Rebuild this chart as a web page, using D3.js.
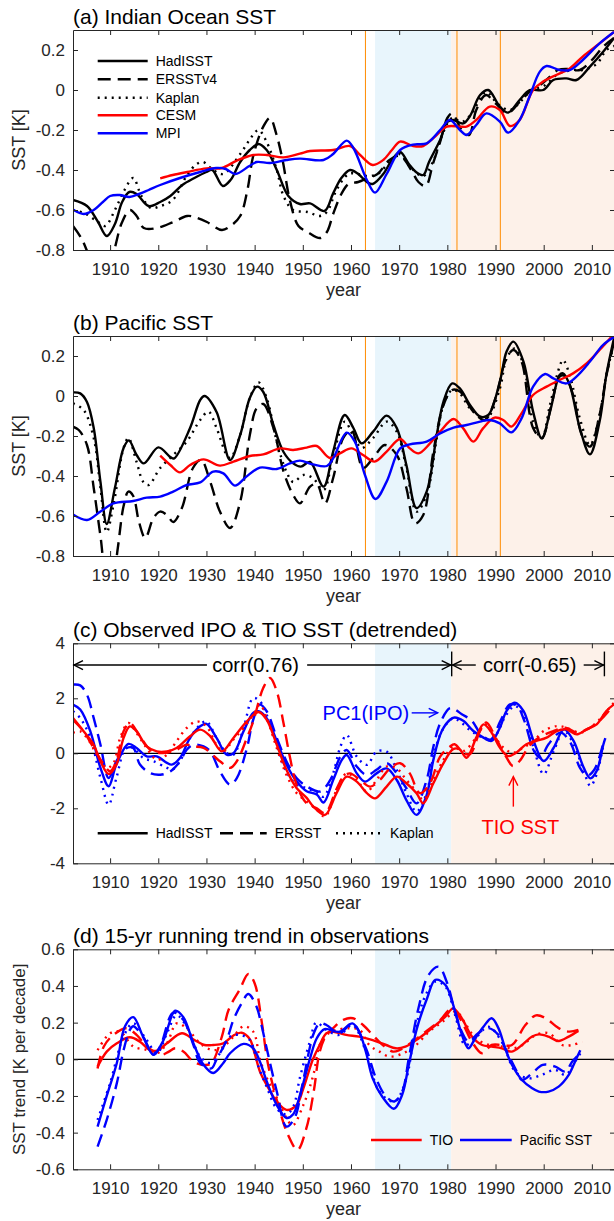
<!DOCTYPE html>
<html>
<head>
<meta charset="utf-8">
<script src="https://cdn.jsdelivr.net/npm/d3@7"></script>
<style>
  body { margin: 0; background: #fff; }
  svg text { font-family: "Liberation Sans", Arial, Helvetica, sans-serif; }
</style>
</head>
<body>
<div id="chart"></div>
<script>
// ---- axes / annotation values ----
var xTicks = [1910, 1920, 1930, 1940, 1950, 1960, 1970, 1980, 1990, 2000, 2010];
var yTicksAB = [-0.8, -0.6, -0.4, -0.2, 0, 0.2];
var yTicksC = [-4, -2, 0, 2, 4];
var yTicksD = [-0.6, -0.4, -0.2, 0, 0.2, 0.4, 0.6];
var blueSpan = [1965, 1980.8];
var pinkSpan = [1980.8, 2014.8];
var volcanoYears = [1963, 1982, 1991];

// ---- (a) Indian Ocean SST [year, K] ----
var aHadISST = [[1902.3,-0.55],[1905.2,-0.58],[1907.5,-0.66],[1909.3,-0.73],[1911,-0.67],[1912.5,-0.56],[1914,-0.51],[1915.5,-0.52],[1918,-0.58],[1920.4,-0.56],[1922.5,-0.53],[1925,-0.475],[1927.5,-0.44],[1930,-0.41],[1931.2,-0.40],[1933.4,-0.48],[1935,-0.45],[1937,-0.36],[1939,-0.3],[1940.8,-0.27],[1942.5,-0.3],[1944.6,-0.4],[1947,-0.53],[1949.4,-0.57],[1951.5,-0.567],[1954.5,-0.605],[1956.3,-0.517],[1958,-0.44],[1959.8,-0.40],[1961.5,-0.42],[1963.3,-0.46],[1964.5,-0.47],[1966.7,-0.42],[1968.5,-0.35],[1970.2,-0.31],[1972,-0.37],[1973.5,-0.41],[1975,-0.425],[1976.2,-0.36],[1978.5,-0.25],[1980,-0.16],[1981.2,-0.15],[1983.3,-0.167],[1984.7,-0.13],[1986.8,-0.025],[1988.5,0.0],[1990.9,-0.083],[1992.6,-0.113],[1995,-0.05],[1997.1,0.0],[1999.9,0.0],[2002,0.05],[2004.7,0.058],[2006.8,0.05],[2009.6,0.117],[2012.3,0.19],[2014.6,0.26]];
var aERSST = [[1902.3,-0.68],[1904,-0.74],[1905.5,-0.82],[1908,-0.95],[1910,-0.9],[1911,-0.79],[1912.5,-0.66],[1914.1,-0.6],[1915.5,-0.63],[1917,-0.69],[1919.7,-0.69],[1923.1,-0.66],[1926,-0.63],[1927.5,-0.635],[1930.1,-0.66],[1933.2,-0.70],[1935,-0.68],[1937,-0.63],[1938.5,-0.5],[1939.7,-0.33],[1941.8,-0.183],[1943.2,-0.14],[1944.5,-0.22],[1945.8,-0.35],[1947.3,-0.55],[1949.1,-0.68],[1951,-0.71],[1953.6,-0.74],[1955,-0.71],[1956.3,-0.62],[1958,-0.52],[1959.5,-0.47],[1961.5,-0.46],[1963.5,-0.44],[1965.5,-0.42],[1968,-0.35],[1970.2,-0.33],[1972.5,-0.4],[1974,-0.46],[1975.5,-0.48],[1977,-0.37],[1978.5,-0.26],[1980,-0.14],[1981,-0.117],[1983,-0.2],[1984.5,-0.225],[1986,-0.1],[1988,-0.025],[1990,-0.067],[1992.5,-0.115],[1995,-0.06],[1997,-0.01],[1999,0.02],[2001,0.06],[2003,0.1],[2005,0.105],[2007.5,0.1],[2010,0.15],[2012.5,0.22],[2014.6,0.26]];
var aKaplan = [[1902.3,-0.6],[1905,-0.62],[1907.5,-0.66],[1909,-0.68],[1911,-0.6],[1913,-0.5],[1914.8,-0.44],[1916.5,-0.53],[1918.5,-0.59],[1920.5,-0.58],[1923,-0.55],[1926,-0.425],[1928,-0.37],[1929.3,-0.36],[1931.4,-0.40],[1933.5,-0.42],[1937,-0.32],[1939.5,-0.23],[1940.8,-0.2],[1942.5,-0.26],[1944.6,-0.4],[1946,-0.53],[1948,-0.6],[1951,-0.61],[1953.5,-0.63],[1955,-0.61],[1957,-0.5],[1959.5,-0.42],[1961.5,-0.42],[1963.5,-0.43],[1965.5,-0.42],[1968,-0.36],[1970,-0.32],[1972.5,-0.39],[1975,-0.43],[1977,-0.36],[1979,-0.22],[1981,-0.14],[1983,-0.16],[1985,-0.12],[1988,-0.01],[1990.5,-0.07],[1993,-0.1],[1995.5,-0.05],[1997.5,0.0],[2000,0.02],[2003,0.08],[2006,0.1],[2008,0.1],[2011,0.13],[2013,0.2],[2014.6,0.22]];
var aCESM = [[1920.4,-0.442],[1923,-0.425],[1926,-0.41],[1930,-0.392],[1933.2,-0.39],[1936.3,-0.353],[1939.7,-0.325],[1942.5,-0.325],[1946,-0.337],[1949.4,-0.318],[1951.5,-0.305],[1956.3,-0.3],[1959.8,-0.28],[1961.9,-0.325],[1964.5,-0.375],[1966.7,-0.35],[1968.5,-0.3],[1970.2,-0.258],[1972.9,-0.28],[1975,-0.28],[1977.1,-0.24],[1979.9,-0.183],[1982.6,-0.183],[1984,-0.183],[1986,-0.15],[1988.8,-0.083],[1990.9,-0.1],[1993,-0.18],[1995,-0.15],[1997.8,0.0],[1999.9,0.042],[2002.6,0.075],[2005.4,0.108],[2008.1,0.167],[2011.6,0.233],[2014.6,0.29]];
var aMPI = [[1902.3,-0.597],[1904.5,-0.62],[1906.6,-0.6],[1908.5,-0.56],[1910,-0.53],[1912,-0.525],[1914,-0.535],[1916,-0.52],[1918,-0.5],[1920.4,-0.475],[1924.5,-0.44],[1928.7,-0.41],[1932,-0.39],[1934,-0.395],[1936,-0.42],[1938.9,-0.38],[1940.4,-0.36],[1943.2,-0.365],[1946.6,-0.35],[1949.4,-0.343],[1954.3,-0.35],[1956.3,-0.32],[1959.1,-0.253],[1960.5,-0.29],[1963.3,-0.45],[1965,-0.513],[1967.4,-0.42],[1970.2,-0.30],[1972.9,-0.273],[1975.7,-0.267],[1978.5,-0.2],[1980.5,-0.15],[1982.6,-0.2],[1984,-0.225],[1986,-0.175],[1988.1,-0.117],[1990.9,-0.158],[1992.6,-0.213],[1995,-0.15],[1997.1,-0.03],[1999.2,0.092],[2000.6,0.12],[2003.3,0.1],[2005.4,0.1],[2008.1,0.15],[2011.6,0.233],[2014.6,0.29]];

// ---- (b) Pacific SST [year, K] ----
var bHadISST = [[1902.3,0.018],[1903.8,0.013],[1905.2,-0.03],[1906.6,-0.16],[1908,-0.43],[1909.3,-0.64],[1911,-0.46],[1912.8,-0.26],[1913.9,-0.222],[1915.5,-0.295],[1917,-0.337],[1920,-0.257],[1922.5,-0.305],[1923.3,-0.312],[1926.6,-0.16],[1928.7,-0.02],[1929.6,0.0],[1932.1,-0.08],[1934.9,-0.32],[1937,-0.195],[1939,-0.01],[1940.5,0.047],[1941.8,0.02],[1943.9,-0.145],[1946,-0.28],[1948,-0.337],[1949.6,-0.353],[1951.5,-0.33],[1954.3,-0.453],[1956.3,-0.278],[1958.7,-0.095],[1960.5,-0.16],[1962.2,-0.237],[1964.6,-0.178],[1967.4,-0.098],[1969.5,-0.16],[1971.5,-0.345],[1973.6,-0.56],[1975.7,-0.478],[1977.8,-0.195],[1979.2,-0.028],[1981,0.063],[1982.6,0.038],[1984.7,-0.045],[1986.8,-0.103],[1988.5,-0.095],[1990.9,0.072],[1992.3,0.222],[1993.7,0.272],[1995.8,0.172],[1997.8,-0.078],[1999.6,-0.212],[2001.3,-0.08],[2003.3,0.105],[2004,0.113],[2005.4,0.055],[2007.5,-0.16],[2009.6,-0.292],[2011.6,-0.128],[2013,0.105],[2014.6,0.29]];
var bERSST = [[1902.3,-0.153],[1903.5,-0.17],[1905.2,-0.245],[1906.6,-0.46],[1908,-0.7],[1909.5,-0.95],[1910.7,-0.9],[1911.6,-0.76],[1912.8,-0.55],[1913.8,-0.478],[1914.8,-0.5],[1916,-0.63],[1917.3,-0.71],[1919,-0.61],[1920.4,-0.578],[1921.8,-0.595],[1923.1,-0.63],[1924.9,-0.56],[1927.2,-0.36],[1928.9,-0.32],[1930.8,-0.43],[1932.8,-0.578],[1934.9,-0.66],[1937,-0.53],[1939,-0.195],[1940.4,-0.062],[1941.8,-0.04],[1943.9,-0.16],[1946,-0.378],[1948,-0.495],[1949.4,-0.537],[1951.5,-0.453],[1952.9,-0.44],[1954.6,-0.537],[1956.3,-0.41],[1958.4,-0.21],[1960.1,-0.17],[1962.5,-0.36],[1964.6,-0.31],[1967,-0.245],[1969.5,-0.295],[1971.5,-0.46],[1973.3,-0.637],[1975,-0.595],[1977.1,-0.278],[1979.2,-0.045],[1981,0.03],[1982.6,0.022],[1985.4,-0.078],[1987.8,-0.12],[1990.2,0.005],[1992,0.172],[1993.7,0.23],[1995.4,0.172],[1997.8,-0.16],[1999.6,-0.21],[2001.6,-0.045],[2003.3,0.097],[2004.4,0.1],[2006.1,0.005],[2007.9,-0.195],[2009.6,-0.253],[2011.6,-0.095],[2013,0.1],[2014.6,0.27]];
var bKaplan = [[1902.3,-0.037],[1904.5,-0.07],[1906.6,-0.21],[1908,-0.46],[1909.3,-0.68],[1910.7,-0.545],[1912.8,-0.26],[1913.8,-0.21],[1915.5,-0.33],[1916.9,-0.43],[1918,-0.445],[1920.4,-0.36],[1923.1,-0.295],[1925.9,-0.228],[1928.7,-0.12],[1930.4,-0.078],[1932.1,-0.16],[1934.2,-0.295],[1935,-0.31],[1937,-0.195],[1939,-0.01],[1940.8,0.068],[1942.5,-0.01],[1944.6,-0.228],[1946.6,-0.378],[1948,-0.43],[1950.1,-0.395],[1952.1,-0.41],[1954.3,-0.47],[1956.3,-0.3],[1958.7,-0.128],[1960.5,-0.2],[1962.2,-0.26],[1964.6,-0.21],[1967.4,-0.128],[1969.5,-0.178],[1971.5,-0.36],[1973.6,-0.578],[1975.7,-0.495],[1977.8,-0.212],[1979.2,-0.045],[1981,0.03],[1982.6,0.013],[1984.7,-0.062],[1988.1,-0.112],[1990.9,0.038],[1992.3,0.188],[1994,0.238],[1995.8,0.155],[1997.8,-0.128],[1999.6,-0.212],[2001.3,-0.045],[2003.3,0.147],[2004,0.18],[2005.4,0.105],[2007.5,-0.112],[2009.6,-0.245],[2011.6,-0.095],[2013,0.105],[2014.6,0.26]];
var bCESM = [[1920.4,-0.298],[1922.5,-0.345],[1924.5,-0.382],[1926.6,-0.345],[1929.4,-0.317],[1932.8,-0.348],[1935.6,-0.328],[1939,-0.3],[1941.8,-0.292],[1945.3,-0.262],[1948,-0.27],[1950.8,-0.258],[1952.9,-0.25],[1955.6,-0.31],[1957.7,-0.287],[1960.1,-0.262],[1962.5,-0.295],[1964.9,-0.328],[1967.4,-0.278],[1970.2,-0.215],[1972.2,-0.262],[1974,-0.287],[1976.4,-0.237],[1978.5,-0.178],[1981.3,-0.115],[1983.3,-0.162],[1985.4,-0.228],[1987.4,-0.162],[1989.8,-0.108],[1991.6,-0.12],[1993.3,-0.153],[1995.4,-0.087],[1997.8,0.005],[2000.6,0.047],[2003.3,0.08],[2006.1,0.113],[2008.9,0.163],[2011.6,0.23],[2014.6,0.31]];
var bMPI = [[1902.3,-0.592],[1905.2,-0.62],[1908,-0.578],[1910.7,-0.537],[1914.8,-0.525],[1917.6,-0.508],[1920.4,-0.503],[1923.1,-0.478],[1925.9,-0.445],[1928.7,-0.432],[1931.4,-0.378],[1933.5,-0.387],[1935.9,-0.448],[1938.3,-0.403],[1941.1,-0.358],[1944.6,-0.365],[1947.3,-0.337],[1949.4,-0.323],[1952.1,-0.342],[1955,-0.35],[1956.3,-0.312],[1959.1,-0.183],[1960.8,-0.228],[1962.9,-0.395],[1965.1,-0.515],[1967.4,-0.428],[1970.2,-0.262],[1972.2,-0.242],[1975.7,-0.228],[1978.5,-0.187],[1981.3,-0.158],[1984,-0.145],[1986.8,-0.128],[1988.8,-0.12],[1990.9,-0.137],[1993.3,-0.182],[1995.4,-0.112],[1997.8,0.047],[2000.3,0.11],[2002,0.088],[2004.7,0.063],[2006.8,0.097],[2009.6,0.172],[2012.3,0.255],[2014.6,0.295]];

// ---- (c) detrended IPO (blue) and TIO SST (red), standardized ----
var cIpoHadISST = [[1902.3,1.77],[1903.8,1.59],[1905.9,0.8],[1908,-0.53],[1909.7,-1.2],[1911.3,-0.41],[1913.8,0.34],[1915.5,0.19],[1917.6,-0.11],[1919.7,-0.11],[1921.8,-0.35],[1922.8,-0.41],[1924.5,-0.17],[1926.6,0.56],[1928.7,0.98],[1930,1.07],[1932.1,0.56],[1934.2,-0.05],[1935.6,0.0],[1937.7,0.8],[1939.7,1.47],[1940.8,1.53],[1942.5,1.28],[1944.6,0.44],[1946.6,-0.41],[1948.7,-1.02],[1950.8,-1.38],[1952.9,-1.5],[1954.3,-1.79],[1956.3,-0.97],[1958.1,-0.24],[1959.1,-0.06],[1961.2,-0.73],[1962.9,-1.03],[1965.3,-0.73],[1967.4,-0.55],[1969.5,-0.97],[1971.5,-1.7],[1973.6,-2.24],[1975.7,-1.52],[1977.1,-0.24],[1978.8,0.79],[1980.5,1.21],[1981.5,1.3],[1983.3,1.18],[1985.4,0.81],[1987.5,0.57],[1989.2,0.45],[1990.9,0.93],[1992.3,1.54],[1994,1.84],[1995.8,1.54],[1997.9,0.45],[2000,-0.28],[2002.1,0.21],[2004.2,0.87],[2006.2,0.45],[2008.3,-0.52],[2009.7,-0.91],[2011,-0.64],[2012.4,0.33],[2012.8,0.55]];
var cIpoERSST = [[1902.3,2.5],[1903.8,2.47],[1905.2,2.13],[1906.6,1.28],[1908,0.31],[1909.7,-0.9],[1911.3,-0.29],[1913.4,0.19],[1914.8,0.19],[1916.2,-0.41],[1918.3,-0.72],[1920.4,-0.78],[1922.5,-0.66],[1924.5,-0.29],[1925.9,0.13],[1927.3,0.31],[1929.4,0.25],[1930.8,0.07],[1932.8,-0.66],[1934.9,-1.14],[1936.3,-0.9],[1938.4,0.19],[1939.7,1.22],[1941.1,1.77],[1942.5,1.53],[1944.6,0.56],[1946.6,-0.29],[1948.7,-0.9],[1950.8,-1.2],[1953.6,-1.39],[1955.7,-0.97],[1957.8,-0.12],[1959.1,0.12],[1961.2,-0.48],[1963.3,-0.79],[1965.3,-0.6],[1967.4,-0.36],[1969.5,-0.73],[1971.5,-1.27],[1973.6,-1.82],[1975.7,-0.97],[1977.1,0.24],[1978.5,1.09],[1980.5,1.64],[1981.5,1.6],[1983,1.42],[1985,1.2],[1987,0.69],[1989,0.5],[1991,1.17],[1993,1.78],[1994.5,1.72],[1996,1.17],[1998,0.08],[1999.3,-0.16],[2001,0.33],[2003.5,0.75],[2005.5,0.4],[2007.5,-0.52],[2009,-0.82],[2010.5,-0.6],[2012.5,0.45]];
var cIpoKaplan = [[1902.3,1.53],[1903.8,1.28],[1905.9,0.56],[1908,-0.9],[1909.7,-1.87],[1911.3,-0.9],[1913.4,0.25],[1914.8,0.19],[1916.9,-0.17],[1919,-0.29],[1921.8,-0.53],[1922.8,-0.6],[1924.5,-0.29],[1926.6,0.56],[1928.7,1.04],[1930,1.16],[1932.1,0.56],[1934.2,0.01],[1935.6,-0.05],[1937.7,0.92],[1939.7,2.01],[1941.1,1.89],[1942.5,1.4],[1944.6,0.31],[1946.6,-0.66],[1948.7,-1.14],[1950.8,-1.27],[1952.9,-1.44],[1954.3,-1.58],[1956.3,-0.73],[1957.8,0.24],[1959.1,0.67],[1961.2,-0.12],[1963.3,-0.42],[1965.3,0.06],[1967.4,0.06],[1969.5,-0.61],[1971.5,-1.45],[1973.6,-2.12],[1975.7,-1.45],[1977.1,-0.12],[1979,0.85],[1981.2,1.27],[1983,1.1],[1985.4,0.75],[1989.2,0.51],[1992.3,1.42],[1994,1.72],[1995.8,1.42],[1997.9,0.2],[2000,-0.76],[2002.1,0.09],[2004.2,0.81],[2006.2,0.33],[2008.3,-0.64],[2009.7,-1.19],[2011,-0.76],[2012.4,0.33]];
var cTioHadISST = [[1902.3,1.28],[1904.5,0.8],[1906.6,0.31],[1908,-0.29],[1909.7,-0.75],[1911.3,-0.41],[1912.8,0.56],[1914.1,0.98],[1915.5,0.8],[1917.6,0.25],[1919.7,0.07],[1921.8,0.07],[1923.8,0.19],[1926.6,0.62],[1928.7,0.86],[1930.8,0.62],[1933.2,0.07],[1935.6,0.56],[1938.4,1.16],[1940.8,1.5],[1942.5,1.22],[1944.6,0.31],[1946.6,-0.6],[1948.7,-1.26],[1950.8,-1.62],[1952.2,-1.94],[1954.6,-2.24],[1957,-1.45],[1959.1,-0.85],[1961.2,-1.03],[1963.3,-1.45],[1965,-1.64],[1967.4,-1.21],[1969.5,-0.85],[1971.5,-1.09],[1973.6,-1.45],[1975,-1.82],[1977.1,-1.09],[1979.2,-0.36],[1981.2,0.15],[1982.5,0.15],[1984,-0.16],[1986,0.57],[1987.5,1.05],[1989.2,0.75],[1990.9,0.21],[1992.6,-0.1],[1994.3,0.02],[1996.4,0.33],[1998.5,0.45],[2000.6,0.57],[2002.7,0.81],[2004.7,0.87],[2006.8,0.69],[2008.9,0.87],[2011,1.05],[2013,1.54],[2014.6,1.78]];
var cTioERSST = [[1902.3,1.22],[1904.5,0.8],[1906.6,0.19],[1908.7,-0.41],[1910,-0.65],[1911.3,-0.29],[1912.8,0.8],[1914.1,1.1],[1916.2,0.62],[1918.3,0.13],[1920.4,0.01],[1923.1,0.07],[1925.9,0.31],[1927.3,0.25],[1929.4,0.2],[1932.8,-0.29],[1934.9,-0.53],[1936.3,-0.29],[1938.4,0.56],[1939.7,1.16],[1941.8,2.38],[1943.2,2.74],[1944.6,2.25],[1946,1.09],[1947.3,-0.12],[1948.7,-1.14],[1950.8,-1.82],[1952.9,-2.0],[1954.6,-2.18],[1957,-1.3],[1958.4,-0.85],[1959.8,-0.73],[1961.9,-0.97],[1964,-1.21],[1966,-0.97],[1968.1,-0.55],[1970.2,-0.36],[1972.2,-0.73],[1974.3,-1.45],[1976.4,-1.09],[1978.5,-0.12],[1980.5,0.24],[1981.5,0.33],[1983.3,0.02],[1984.7,-0.03],[1986.8,0.81],[1988.1,1.12],[1990,0.57],[1992.3,-0.16],[1993.6,-0.46],[1995,-0.28],[1997,0.27],[1999,0.57],[2002,0.81],[2004.5,0.93],[2007,0.75],[2009,0.87],[2011.5,1.17],[2013.5,1.54],[2014.6,1.78]];
var cTioKaplan = [[1902.3,0.74],[1903.8,0.8],[1905.2,0.56],[1907.3,-0.05],[1909.3,-0.53],[1910.7,-0.36],[1912.1,0.56],[1913.8,1.1],[1915.5,0.74],[1917.6,0.19],[1919.7,-0.23],[1921.8,-0.05],[1923.8,0.44],[1925.9,0.92],[1928,1.16],[1930,0.98],[1932.1,0.31],[1933.5,0.07],[1935.6,0.5],[1937.7,0.92],[1939.7,1.4],[1941.1,1.77],[1942.5,1.28],[1944.6,0.19],[1946.6,-0.78],[1948.7,-1.44],[1950.8,-1.75],[1952.9,-2.05],[1954.6,-2.3],[1957,-1.33],[1959.1,-0.73],[1961.2,-0.97],[1963.3,-1.39],[1965.3,-0.97],[1967.4,-0.48],[1969.5,-0.55],[1971.5,-0.97],[1973.6,-1.39],[1975,-1.70],[1977.1,-0.97],[1979.2,-0.24],[1981.2,0.24],[1983.3,0.08],[1986,0.57],[1987.8,1.05],[1989.5,0.69],[1991.6,0.21],[1993.6,0.02],[1995.8,0.21],[1997.9,0.45],[2000,0.81],[2002.7,0.99],[2004.7,0.93],[2007.5,0.75],[2009.6,0.93],[2011.6,1.23],[2013.7,1.66],[2014.6,1.84]];

// ---- (d) 15-yr running trend [K per decade] ----
var dPacHadISST = [[1907.4,-0.367],[1909.3,-0.2],[1911.4,-0.02],[1913.1,0.18],[1914.8,0.23],[1916.9,0.12],[1919,0.025],[1921.1,0.105],[1923.5,0.265],[1925.2,0.23],[1927.3,0.087],[1929.4,-0.03],[1931.4,-0.075],[1933.5,-0.02],[1934.9,0.033],[1937.7,0.084],[1939.7,0.06],[1941.1,-0.013],[1942.5,-0.12],[1944.6,-0.25],[1946.6,-0.32],[1948,-0.30],[1949.4,-0.195],[1951.5,0.005],[1952.9,0.115],[1954.5,0.165],[1957.6,0.15],[1960.3,0.196],[1961.7,0.15],[1963.1,0.04],[1964.5,-0.104],[1966.5,-0.204],[1968.9,-0.27],[1970.6,-0.195],[1972,-0.03],[1973.7,0.17],[1975.8,0.333],[1977.5,0.433],[1979.6,0.405],[1981,0.315],[1982.4,0.187],[1983.7,0.087],[1984.4,0.06],[1985.8,0.115],[1987.5,0.178],[1989.2,0.224],[1990.6,0.17],[1992,0.06],[1993.4,-0.03],[1995.5,-0.113],[1997.6,-0.158],[1999,-0.176],[2001,-0.176],[2003.1,-0.149],[2005.2,-0.085],[2006.5,-0.013],[2007.6,0.05]];
var dPacERSST = [[1907.4,-0.476],[1909.3,-0.33],[1911.4,-0.13],[1912.8,0.05],[1914.1,0.16],[1914.8,0.18],[1916.9,0.12],[1919,0.025],[1920.4,0.07],[1923.1,0.255],[1925.2,0.215],[1927.3,0.078],[1928.7,-0.02],[1931,-0.05],[1932.1,0.0],[1934.2,0.105],[1935.6,0.215],[1937.3,0.305],[1938.7,0.356],[1940.4,0.287],[1941.3,0.2],[1942.5,0.06],[1944.6,-0.176],[1946.6,-0.367],[1948.3,-0.32],[1949.9,-0.14],[1951.5,0.07],[1952.1,0.13],[1953.5,0.196],[1954.9,0.187],[1957.6,0.142],[1960.3,0.196],[1963.1,0.06],[1965.2,-0.104],[1967.3,-0.204],[1969,-0.23],[1970.6,-0.178],[1972,0.005],[1974,0.278],[1976.1,0.46],[1978.2,0.505],[1979.9,0.42],[1981.6,0.26],[1983,0.15],[1984.4,0.096],[1986.4,0.142],[1988.5,0.17],[1990.6,0.133],[1992,0.06],[1994.1,-0.05],[1995.5,-0.113],[1997.6,-0.076],[1999.8,-0.03],[2002.4,-0.04],[2004.5,-0.067],[2005.9,-0.013],[2007.2,0.024]];
var dPacKaplan = [[1907.4,-0.33],[1910,-0.13],[1912.8,0.125],[1914.8,0.196],[1917.6,0.105],[1919.7,0.033],[1921.8,0.142],[1923.8,0.24],[1925.9,0.178],[1928.7,0.015],[1930.8,-0.02],[1932.8,0.033],[1934.9,0.124],[1936.9,0.133],[1939,0.105],[1940.8,-0.04],[1942.5,-0.15],[1944.6,-0.27],[1946.6,-0.3],[1948,-0.26],[1949.4,-0.1],[1951.5,0.1],[1952.8,0.2],[1954.9,0.16],[1957.6,0.133],[1960.3,0.187],[1963.1,0.042],[1965.9,-0.176],[1969,-0.23],[1971.3,-0.122],[1973.4,0.169],[1975.5,0.351],[1977.5,0.424],[1979.6,0.396],[1981.6,0.242],[1983.7,0.078],[1985.8,0.115],[1988.5,0.178],[1991.3,0.096],[1994.1,-0.067],[1996.9,-0.104],[1999.6,-0.085],[2002.4,-0.058],[2004.5,-0.085],[2006.5,-0.013],[2007.6,0.033]];
var dTioHadISST = [[1907.4,-0.04],[1909.3,0.042],[1911.4,0.087],[1914.1,0.12],[1916.2,0.096],[1918.3,0.05],[1919.7,0.047],[1921.8,0.087],[1924.9,0.142],[1927.5,0.105],[1929.6,0.078],[1931.4,0.078],[1933.5,0.087],[1935.6,0.13],[1937.3,0.145],[1939,0.11],[1940,0.033],[1941.1,-0.067],[1942.5,-0.14],[1944.6,-0.23],[1946.6,-0.276],[1948.7,-0.25],[1950.1,-0.16],[1952.1,0.0],[1953.5,0.078],[1954.9,0.142],[1956.3,0.15],[1959,0.133],[1961.7,0.124],[1964.5,0.105],[1967.3,0.078],[1969.3,0.06],[1971.3,0.069],[1974.1,0.115],[1976.8,0.17],[1979.6,0.233],[1981.2,0.278],[1983,0.224],[1985.1,0.124],[1987.2,0.078],[1989.2,0.069],[1991.3,0.06],[1993.4,0.042],[1995.5,0.078],[1997.6,0.124],[1999,0.136],[2001,0.124],[2003.1,0.1],[2005.2,0.124],[2007.2,0.155]];
var dTioERSST = [[1907.4,-0.05],[1908.7,0.07],[1910.7,0.133],[1913.4,0.169],[1915.5,0.133],[1917.6,0.07],[1919.7,0.033],[1920.8,0.024],[1922.2,0.042],[1923.5,0.06],[1925.2,0.042],[1927.3,-0.013],[1929.6,-0.031],[1931,-0.022],[1933.2,0.124],[1934.6,0.27],[1936.9,0.38],[1938.7,0.465],[1940,0.415],[1941.5,0.2],[1942.8,-0.03],[1944.9,-0.25],[1946.9,-0.41],[1948.9,-0.494],[1950.7,-0.38],[1952.3,-0.17],[1953.5,0.04],[1954.9,0.133],[1956.3,0.17],[1958.4,0.215],[1960.4,0.224],[1962.5,0.187],[1964.5,0.133],[1966.6,0.078],[1968.7,0.042],[1970.1,0.051],[1972.8,0.096],[1975.5,0.151],[1978.2,0.205],[1981,0.278],[1983,0.205],[1985.1,0.096],[1987.2,0.033],[1989.2,0.078],[1991.3,0.078],[1993.4,0.078],[1996.2,0.187],[1998.4,0.24],[2000.4,0.224],[2003.1,0.17],[2005.2,0.151],[2007.2,0.16]];
var dTioKaplan = [[1907.4,0.05],[1910,0.142],[1912.1,0.15],[1914.8,0.07],[1917.6,0.051],[1919.7,0.033],[1921.8,0.087],[1923.8,0.196],[1925.9,0.169],[1928.7,0.087],[1931.4,0.05],[1933.5,0.069],[1935.6,0.124],[1937.7,0.18],[1939.7,0.151],[1941.1,0.0],[1942.5,-0.1],[1944.6,-0.21],[1946.6,-0.32],[1947.9,-0.36],[1950.1,-0.25],[1952.2,-0.084],[1953.5,0.078],[1954.9,0.133],[1957,0.16],[1959.7,0.169],[1961.8,0.16],[1963.8,0.078],[1965.9,0.042],[1968,0.015],[1970.8,0.033],[1973.5,0.078],[1976.2,0.151],[1979,0.205],[1981.8,0.26],[1983.9,0.187],[1985.9,0.115],[1988.7,0.078],[1991.5,0.069],[1993.6,0.06],[1995.6,0.078],[1998.4,0.133],[2001.1,0.142],[2003.8,0.078],[2005.9,0.078],[2008,0.096]];

// ---- layout ----
var W = 614, H = 1221, plotH = 220;
var xDomain = [1902.3, 2014.8];
var x = d3.scaleLinear().domain(xDomain).range([73, 615]);
var dashes = {solid: null, dashed: "13,7", dotted: "2,5"};
var BLACK = "#000", RED = "#ff0000", BLUE = "#0000ff", AXIS = "#262626";

var svg = d3.select("#chart").append("svg")
    .attr("width", W)
    .attr("height", H);

var line = function(y){
    return d3.line()
        .x(function(d){ return x(d[0]); })
        .y(function(d){ return y(d[1]); })
        .curve(d3.curveCatmullRom.alpha(0.5));
};

function drawPanel(p){
    var g = svg.append("g").attr("transform", "translate(0," + p.top + ")");
    var y = d3.scaleLinear().domain(p.yDomain).range([plotH, 0]);

    g.append("clipPath").attr("id", "clip-" + p.id)
        .append("rect")
            .attr("x", x(xDomain[0])).attr("y", 0)
            .attr("width", x(xDomain[1]) - x(xDomain[0])).attr("height", plotH);

    // shaded periods
    g.append("rect")
        .attr("x", x(blueSpan[0])).attr("y", 0)
        .attr("width", x(blueSpan[1]) - x(blueSpan[0])).attr("height", plotH)
        .attr("fill", "#e8f5fc");
    g.append("rect")
        .attr("x", x(pinkSpan[0])).attr("y", 0)
        .attr("width", x(pinkSpan[1]) - x(pinkSpan[0])).attr("height", plotH)
        .attr("fill", "#fdf1e9");

    if (p.volcano){
        volcanoYears.forEach(function(v){
            g.append("line")
                .attr("x1", x(v)).attr("x2", x(v))
                .attr("y1", 0).attr("y2", plotH)
                .attr("stroke", "#ff8c00").attr("stroke-width", 1);
        });
    }
    if (p.zeroLine){
        g.append("line")
            .attr("x1", x(xDomain[0])).attr("x2", x(xDomain[1]))
            .attr("y1", y(0)).attr("y2", y(0))
            .attr("stroke", BLACK).attr("stroke-width", 1.3);
    }

    var cg = g.append("g").attr("clip-path", "url(#clip-" + p.id + ")");
    p.series.forEach(function(s){
        cg.append("path")
            .datum(s.data)
            .attr("d", line(y))
            .attr("fill", "none")
            .attr("stroke", s.color)
            .attr("stroke-width", 2.4)
            .attr("stroke-dasharray", dashes[s.style]);
    });

    // axes (ticks pointing inward, box all around)
    var xb = g.append("g").attr("transform", "translate(0," + plotH + ")")
        .call(d3.axisBottom(x).tickValues(xTicks).tickSizeInner(-5).tickSizeOuter(0)
            .tickPadding(13).tickFormat(d3.format("d")));
    var xt = g.append("g")
        .call(d3.axisTop(x).tickValues(xTicks).tickSizeInner(-5).tickSizeOuter(0).tickFormat(""));
    var yl = g.append("g").attr("transform", "translate(" + x(xDomain[0]) + ",0)")
        .call(d3.axisLeft(y).tickValues(p.yTicks).tickSizeInner(-5).tickSizeOuter(0)
            .tickPadding(8).tickFormat(function(d){ return String(d); }));
    var yr = g.append("g").attr("transform", "translate(" + x(xDomain[1]) + ",0)")
        .call(d3.axisRight(y).tickValues(p.yTicks).tickSizeInner(-5).tickSizeOuter(0).tickFormat(""));
    [xb, xt, yl, yr].forEach(function(a){
        a.select(".domain").attr("stroke", AXIS);
        a.selectAll(".tick line").attr("stroke", AXIS);
        a.selectAll("text").attr("font-size", "17px").attr("fill", AXIS)
            .attr("font-family", "'Liberation Sans', Arial, sans-serif");
    });

    // title
    g.append("text")
        .attr("x", x(xDomain[0]))
        .attr("y", -6)
        .attr("font-size", "21px")
        .attr("fill", BLACK)
        .text(p.title);

    // x label
    g.append("text")
        .attr("x", (x(xDomain[0]) + 614) / 2)
        .attr("y", plotH + 46)
        .attr("font-size", "18px")
        .attr("text-anchor", "middle")
        .attr("fill", AXIS)
        .text("year");

    // y label
    if (p.ylabel){
        g.append("text")
            .attr("transform", "translate(25," + (plotH / 2) + ") rotate(-90)")
            .attr("font-size", p.ylabelSize)
            .attr("text-anchor", "middle")
            .attr("fill", AXIS)
            .text(p.ylabel);
    }
    return {g: g, y: y};
}

function legendRow(g, x1, x2, yy, color, style, label, size){
    g.append("line")
        .attr("x1", x1).attr("x2", x2).attr("y1", yy).attr("y2", yy)
        .attr("stroke", color).attr("stroke-width", 2.4)
        .attr("stroke-dasharray", dashes[style]);
    g.append("text")
        .attr("x", x2 + 8).attr("y", yy)
        .attr("dy", "0.35em")
        .attr("font-size", size || "14px")
        .attr("fill", BLACK)
        .text(label);
}

function arrowHead(g, px, py, dir, color){
    // dir: "left", "right", "up"
    var pts;
    if (dir === "right") pts = [[px - 9, py - 4.5], [px, py], [px - 9, py + 4.5]];
    else if (dir === "left") pts = [[px + 9, py - 4.5], [px, py], [px + 9, py + 4.5]];
    else pts = [[px - 4.5, py + 9], [px, py], [px + 4.5, py + 9]];
    g.append("path")
        .attr("d", d3.line()(pts))
        .attr("fill", "none").attr("stroke", color).attr("stroke-width", 1.4);
}

function segment(g, x1, y1, x2, y2, color){
    g.append("line")
        .attr("x1", x1).attr("y1", y1).attr("x2", x2).attr("y2", y2)
        .attr("stroke", color).attr("stroke-width", 1.4);
}

// ---- panel (a) ----
var pa = drawPanel({
    id: "a", top: 30, yDomain: [-0.8, 0.3], yTicks: yTicksAB,
    title: "(a) Indian Ocean SST", ylabel: "SST [K]", ylabelSize: "18px", volcano: true,
    series: [
        {data: aHadISST, color: BLACK, style: "solid"},
        {data: aERSST, color: BLACK, style: "dashed"},
        {data: aKaplan, color: BLACK, style: "dotted"},
        {data: aCESM, color: RED, style: "solid"},
        {data: aMPI, color: BLUE, style: "solid"}
    ]
});
legendRow(pa.g, 97.7, 147.7, 31, BLACK, "solid", "HadISST");
legendRow(pa.g, 97.7, 147.7, 49.3, BLACK, "dashed", "ERSSTv4");
legendRow(pa.g, 97.7, 147.7, 67.7, BLACK, "dotted", "Kaplan");
legendRow(pa.g, 97.7, 147.7, 85.3, RED, "solid", "CESM");
legendRow(pa.g, 97.7, 147.7, 103.3, BLUE, "solid", "MPI");

// ---- panel (b) ----
drawPanel({
    id: "b", top: 336, yDomain: [-0.8, 0.3], yTicks: yTicksAB,
    title: "(b) Pacific SST", ylabel: "SST [K]", ylabelSize: "18px", volcano: true,
    series: [
        {data: bHadISST, color: BLACK, style: "solid"},
        {data: bERSST, color: BLACK, style: "dashed"},
        {data: bKaplan, color: BLACK, style: "dotted"},
        {data: bCESM, color: RED, style: "solid"},
        {data: bMPI, color: BLUE, style: "solid"}
    ]
});

// ---- panel (c) ----
var pc = drawPanel({
    id: "c", top: 643.3, yDomain: [-4, 4], yTicks: yTicksC,
    title: "(c) Observed IPO & TIO SST (detrended)", zeroLine: true,
    series: [
        {data: cIpoHadISST, color: BLUE, style: "solid"},
        {data: cIpoERSST, color: BLUE, style: "dashed"},
        {data: cIpoKaplan, color: BLUE, style: "dotted"},
        {data: cTioHadISST, color: RED, style: "solid"},
        {data: cTioERSST, color: RED, style: "dashed"},
        {data: cTioKaplan, color: RED, style: "dotted"}
    ]
});
legendRow(pc.g, 97.7, 147.7, 190, BLACK, "solid", "HadISST");
legendRow(pc.g, 220, 266.7, 190, BLACK, "dashed", "ERSST");
legendRow(pc.g, 336, 382, 190, BLACK, "dotted", "Kaplan");

(function(){
    var g = pc.g, y = pc.y, yy = y(3.21);
    var bar1 = 1980.9, bar2 = 2012.6;
    segment(g, x(xDomain[0]), yy, x(1930.1), yy, BLACK);
    arrowHead(g, x(xDomain[0]) + 1, yy, "left", BLACK);
    g.append("text").attr("x", x(1940.2)).attr("y", yy).attr("dy", "0.35em")
        .attr("text-anchor", "middle").attr("font-size", "20px").text("corr(0.76)");
    segment(g, x(1950.9), yy, x(bar1), yy, BLACK);
    arrowHead(g, x(bar1) - 1, yy, "right", BLACK);
    segment(g, x(bar1), y(3.7), x(bar1), y(2.8), BLACK);
    segment(g, x(bar1), yy, x(1985.9), yy, BLACK);
    arrowHead(g, x(bar1) + 1, yy, "left", BLACK);
    g.append("text").attr("x", x(1997.1)).attr("y", yy).attr("dy", "0.35em")
        .attr("text-anchor", "middle").attr("font-size", "20px").text("corr(-0.65)");
    segment(g, x(2008.3), yy, x(bar2), yy, BLACK);
    arrowHead(g, x(bar2) - 1, yy, "right", BLACK);
    segment(g, x(bar2), y(3.7), x(bar2), y(2.8), BLACK);

    // PC1(IPO) label
    g.append("text").attr("x", x(1954.1)).attr("y", y(1.47)).attr("dy", "0.35em")
        .attr("font-size", "20px").attr("fill", BLUE).text("PC1(IPO)");
    segment(g, x(1972.6), y(1.47), x(1978.0), y(1.47), BLUE);
    arrowHead(g, x(1978.0), y(1.47), "right", BLUE);

    // TIO SST label
    g.append("text").attr("x", x(1987.1)).attr("y", y(-2.67)).attr("dy", "0.35em")
        .attr("font-size", "20px").attr("fill", RED).text("TIO SST");
    segment(g, x(1993.7), y(-1.94), x(1993.7), y(-0.85), RED);
    arrowHead(g, x(1993.7), y(-0.85), "up", RED);
})();

// ---- panel (d) ----
var pd = drawPanel({
    id: "d", top: 949.3, yDomain: [-0.6, 0.6], yTicks: yTicksD,
    title: "(d) 15-yr running trend in observations",
    ylabel: "SST trend [K per decade]", ylabelSize: "17px", zeroLine: true,
    series: [
        {data: dTioHadISST, color: RED, style: "solid"},
        {data: dTioERSST, color: RED, style: "dashed"},
        {data: dTioKaplan, color: RED, style: "dotted"},
        {data: dPacHadISST, color: BLUE, style: "solid"},
        {data: dPacERSST, color: BLUE, style: "dashed"},
        {data: dPacKaplan, color: BLUE, style: "dotted"}
    ]
});
legendRow(pd.g, 371, 421.7, 190.7, RED, "solid", "TIO");
legendRow(pd.g, 460, 511.7, 190.7, BLUE, "solid", "Pacific SST");
</script>
</body>
</html>
